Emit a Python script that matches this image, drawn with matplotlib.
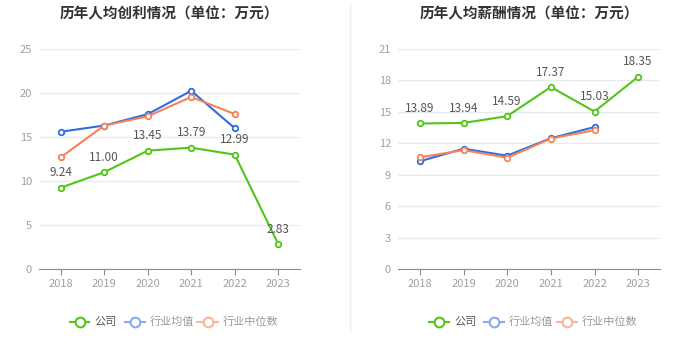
import matplotlib.pyplot as plt
import numpy as np

plt.rcParams['font.family'] = ['Noto Sans CJK SC', 'DejaVu Sans']

years = ['2018', '2019', '2020', '2021', '2022', '2023']

# 人均创利
profit_company = [9.24, 11.00, 13.45, 13.79, 12.99, 2.83]
profit_mean = [15.6, 16.3, 17.6, 20.25, 16.0]
profit_median = [12.7, 16.3, 17.35, 19.55, 17.6]

# 人均薪酬
salary_company = [13.89, 13.94, 14.59, 17.37, 15.03, 18.35]
salary_mean = [10.28, 11.48, 10.82, 12.48, 13.55]
salary_median = [10.65, 11.35, 10.62, 12.45, 13.25]

green = '#52c41a'
blue = '#2f6ede'
orange = '#f58258'
blue_l = '#8aa9ef'
orange_l = '#f9b49a'

fig = plt.figure(figsize=(6.99, 3.59), dpi=100)
W, H = 699, 359


def make_ax(x0, x1, title, ymax, step, comp, mean, median):
    ax = fig.add_axes([x0 / W, 1 - 269 / H, (x1 - x0) / W, 220 / H])
    x = np.arange(len(years))
    ax.set_xlim(-0.5, 5.5)
    ax.set_ylim(0, ymax)
    ax.set_yticks(np.arange(0, ymax + 0.1, step))
    ax.set_xticks(x)
    ax.set_xticklabels(years)
    ax.grid(axis='y', color='#e6ebf3', lw=1)
    ax.set_axisbelow(True)
    for s in ['top', 'right', 'left']:
        ax.spines[s].set_visible(False)
    ax.spines['bottom'].set_color('#8c8c8c')
    ax.tick_params(axis='y', length=0, labelcolor='#a0a0a0', labelsize=8, pad=5)
    ax.tick_params(axis='x', length=4, color='#8c8c8c', labelcolor='#a0a0a0', labelsize=8)
    mk = dict(marker='o', ms=4, mfc='white', mew=1.3, lw=1.5)
    ax.plot(x[:len(mean)], mean, color=blue, **mk)
    ax.plot(x[:len(median)], median, color=orange, **mk)
    ax.plot(x, comp, color=green, **mk)
    for xi, v in zip(x, comp):
        ax.annotate('%.2f' % v, (xi, v), xytext=(0, 6), textcoords='offset points',
                    ha='center', va='bottom', fontsize=8.5, color='#555555')
    fig.text((x0 + x1) / 2 / W, 1 - 13 / H, title, ha='center', va='center',
             fontsize=10.5, fontweight='bold', color='#333333')
    # legend
    lx = (x0 + x1) / 2 - 100
    ly = 1 - 322 / H
    items = [('公司', green, green, '#555555'), ('行业均值', blue_l, blue_l, '#999999'),
             ('行业中位数', orange_l, orange_l, '#999999')]
    offs = [0, 55, 128]
    for (lab, c, mc, tc), o in zip(items, offs):
        xs = lx + o
        fig.add_artist(plt.Line2D([xs / W, (xs + 20) / W], [ly, ly], color=c, lw=1.5))
        fig.add_artist(plt.Line2D([(xs + 10) / W], [ly], marker='o', ms=7, mfc='white',
                                  mec=mc, mew=1.5, color=c))
        fig.text((xs + 25) / W, ly, lab, ha='left', va='center', fontsize=8, color=tc)
    return ax


make_ax(39, 300, '历年人均创利情况（单位：万元）', 25, 5,
        profit_company, profit_mean, profit_median)
make_ax(398, 660, '历年人均薪酬情况（单位：万元）', 21, 3,
        salary_company, salary_mean, salary_median)

fig.add_artist(plt.Line2D([350 / W, 350 / W], [1 - 330 / H, 1 - 5 / H], color='#eeeeee', lw=1))

fig.savefig('out.png', dpi=100)
